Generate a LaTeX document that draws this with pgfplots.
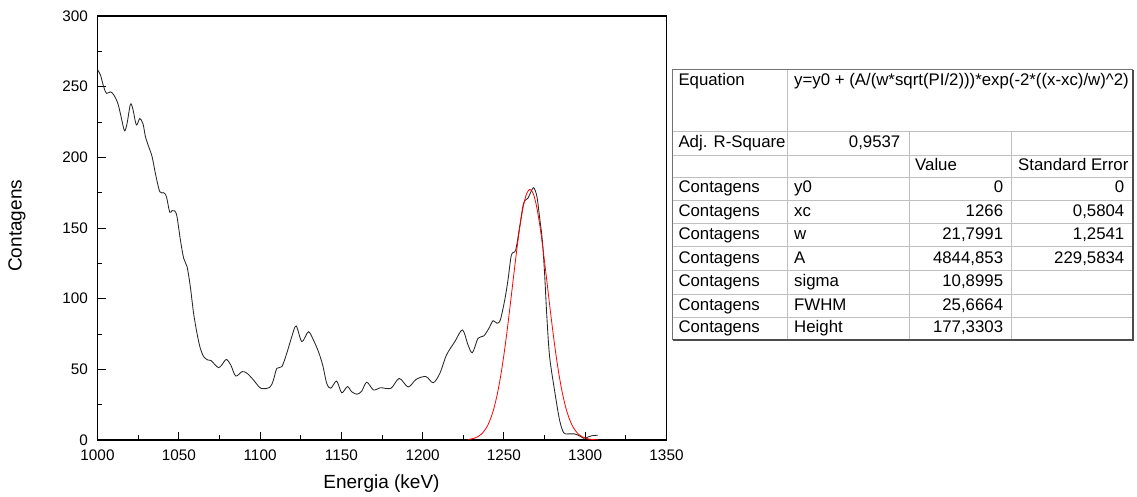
\documentclass[border=0pt]{standalone}
\usepackage{fontspec}
\setmainfont{Liberation Sans}
\usepackage{pgfplots}
\pgfplotsset{compat=1.18}
\usepackage{pgfplotstable}

\pgfplotstableread{
x y
1000 262
1001.8 258.3
1003.9 249.5
1005.5 245.3
1008 246.3
1010 244.2
1012.5 238.2
1014.5 228.8
1016.6 218.8
1018.2 224.1
1020.3 237.7
1021.9 233.4
1023.9 222.9
1026 227.4
1028 223.6
1029.5 214.6
1031.5 207.5
1033.6 200.4
1035.6 188.7
1038.3 175.7
1040.7 175
1042.4 172.2
1044.4 161.2
1045.9 162.3
1047.5 162.1
1048.9 158
1051 141.5
1053 128.6
1055.1 122.6
1057.1 108.5
1059.1 89.7
1061.2 75.5
1063.2 65
1065.3 59
1067.7 56.7
1069.8 56.2
1072.4 53.1
1074.5 51.2
1076.5 53.1
1079.2 57
1082 53
1085 45.3
1089 48.4
1092 47.2
1096 42.4
1100.5 36.6
1106 37.3
1108.2 42.4
1110.3 50.7
1113.4 51.9
1116.4 61.3
1119.5 73.1
1122.2 80.7
1125.7 69.6
1129.7 76.6
1132.8 70.8
1135.9 62.5
1138.5 53.1
1141 40.1
1143.5 36.6
1147.1 41.7
1150.2 33.4
1153.7 37.8
1156.4 34.1
1159.6 32.4
1162.5 34.5
1165.6 40.9
1169.8 35.4
1174 37
1180.5 36.6
1185.6 43.6
1191.1 37.5
1196 42.9
1202 44.9
1206.5 40.5
1210.6 47.2
1214.7 60.2
1219.8 69.6
1224.5 77.9
1227.9 67.3
1230.6 61.8
1234.1 72
1237.6 73.6
1240.8 79.1
1243.3 84.4
1245.7 82.6
1247.8 85
1250.5 99.1
1252.5 113.2
1254.6 130.9
1257.2 134.4
1259.7 151
1262.1 167.5
1264.8 171.1
1266.2 174.6
1268.3 178.5
1270.3 172.2
1272 156.9
1273.6 141.5
1275 118
1276.4 87.3
1278.1 59
1281.1 35.4
1284.2 14.2
1286.7 5.2
1289.3 4.3
1293.4 4.3
1296.5 2.9
1299 1.2
1300.6 1.6
1303.7 2.9
1307.7 3.4
}\spectrum

\pgfplotstableread{
x y
1228 0.41
1230 0.76
1232 1.37
1234 2.38
1236 4.01
1238 6.54
1240 10.31
1242 15.71
1244 23.12
1246 32.93
1248 45.35
1250 60.38
1252 77.73
1254 96.73
1256 116.41
1258 135.46
1260 152.40
1262 165.78
1264 174.37
1266 177.33
1268 174.37
1270 165.78
1272 152.40
1274 135.46
1276 116.41
1278 96.73
1280 77.73
1282 60.38
1284 45.35
1286 32.93
1288 23.12
1290 15.71
1292 10.31
1294 6.54
1296 4.01
1298 2.38
1300 1.37
1302 0.76
1304 0.41
1306 0.21
1308 0.11
}\fitcurve

\begin{document}
\begin{tikzpicture}
\path[use as bounding box] (0pt,0pt) rectangle (1137pt,497pt);
\begin{axis}[
  at={(97.5pt,57pt)}, anchor=south west,
  width=569pt, height=424pt, scale only axis,
  xmin=1000, xmax=1350, ymin=0, ymax=300,
  xtick distance=50, ytick distance=50,
  minor x tick num=1, minor y tick num=1,
  xtick pos=left, ytick pos=left,
  tick align=inside,
  major tick length=8pt, minor tick length=4.5pt,
  every tick/.style={black, line width=0.9pt},
  axis line style={line width=1.3pt},
  /pgf/number format/assume math mode=true,
  /pgf/number format/1000 sep={},
  tick label style={font=\fontsize{15.3}{18}\selectfont},
  xticklabel style={yshift=-5.8pt},
  yticklabel style={xshift=-6pt},
]
\addplot[black!85, line width=0.85pt, smooth] table {\spectrum};
\addplot[red, line width=0.8pt, smooth] table {\fitcurve};
\end{axis}
\node[font=\fontsize{19}{23}\selectfont] at (381.5pt,13.2pt) {Energia (keV)};
\node[rotate=90, font=\fontsize{19}{23}\selectfont] at (17pt,271.2pt) {Contagens};

\begin{scope}[x=1pt, y=-1pt, shift={(0pt,497pt)}, every node/.style={inner sep=0pt, font=\fontsize{16.8}{20}\selectfont}]
  % inner grid
  \foreach \r in {131,155.7,177.3,200,223.3,246.7,270.7,294,317.3}
    \draw[black!25, line width=0.8pt] (672.7,\r) -- (1133,\r);
  \draw[black!25, line width=0.8pt] (787.3,70) -- (787.3,340);
  \draw[black!25, line width=0.8pt] (909.3,131) -- (909.3,340);
  \draw[black!25, line width=0.8pt] (1011.3,131) -- (1011.3,340);
  % outer border
  \draw[black!55, line width=1pt] (672.7,340) -- (672.7,70) -- (1133,70);
  \draw[black!70, line width=1.4pt] (1133,70) -- (1133,340) -- (672.7,340);
  % texts
  \node[anchor=base west] at (678.3,85.5) {Equation};
  \node[anchor=base west] at (794,85.5) {y=y0 + (A/(w*sqrt(PI/2)))*exp(-2*((x-xc)/w)\textasciicircum 2)};
  \node[anchor=base west] at (678.3,148) {Adj. R-Square};
  \node[anchor=base east] at (900.5,148) {0,9537};
  \node[anchor=base west] at (915,170.3) {Value};
  \node[anchor=base west] at (1018,170.3) {Standard Error};
  \foreach \b/\p/\v/\e in {193/y0/0/0, 216.3/xc/1266/{0,5804}, 239.7/w/{21,7991}/{1,2541}, 263.7/A/{4844,853}/{229,5834}, 287/sigma/{10,8995}/, 310.3/FWHM/{25,6664}/, 333/Height/{177,3303}/}{
    \node[anchor=base west] at (678.3,\b) {Contagens};
    \node[anchor=base west] at (794,\b) {\p};
    \node[anchor=base east] at (1003.3,\b) {\v};
    \node[anchor=base east] at (1124.5,\b) {\e};
  }
\end{scope}
\end{tikzpicture}
\end{document}
